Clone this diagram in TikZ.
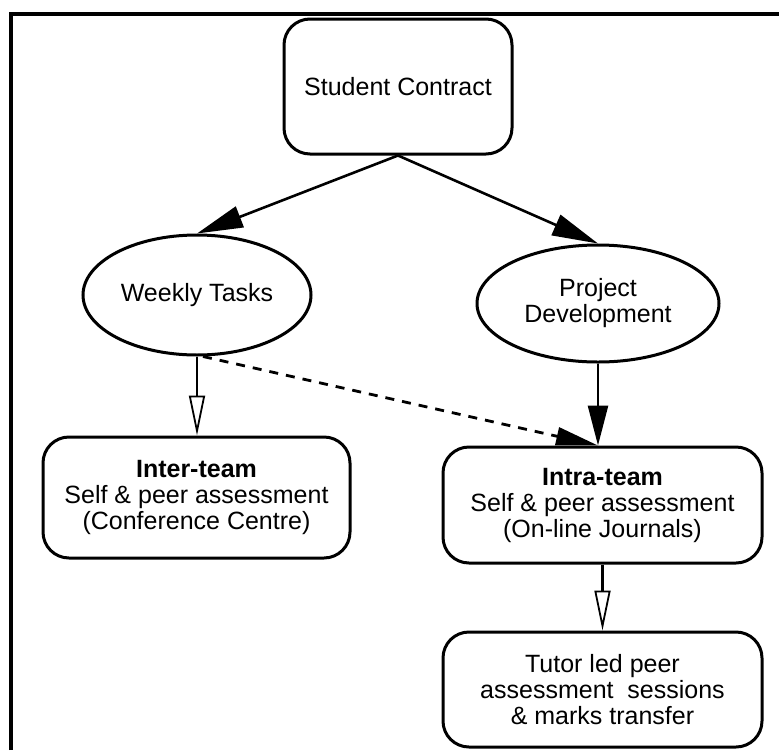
\documentclass[tikz,border=0pt]{standalone}
\usepackage{fontspec}
\setmainfont{Liberation Sans}
\usetikzlibrary{arrows.meta,shapes.geometric}
\begin{document}
\begin{tikzpicture}[x=1pt,y=-1pt,
  every node/.style={font=\fontsize{25}{26}\selectfont, align=center, inner sep=0pt},
  rbox/.style={draw, line width=3pt, rounded corners=26pt},
  oval/.style={draw, ellipse, line width=3pt},
  conn/.style={line width=2.6pt},
  fulltip/.style={-{Triangle[length=40pt,width=20pt]}},
  hollowtip/.style={-{Triangle[open,length=40pt,width=16pt,line width=1.8pt]}},
  dashconn/.style={line width=2.8pt, dash pattern=on 9pt off 8pt}
]
\useasboundingbox (0,0) rectangle (779,750);
% frame
\draw[line width=3.2pt] (11,750) -- (11,14) -- (779,14);

\node[rbox, minimum width=228pt, minimum height=135pt] (sc) at (398,86.5) {Student Contract};
\node[oval, minimum width=228pt, minimum height=120pt] (wt) at (197,295) {Weekly Tasks};
\node[oval, minimum width=242pt, minimum height=117pt] (pd) at (598,303.5) {Project\\Development};
\node[rbox, minimum width=307pt, minimum height=121pt] (inter) at (196.5,497.5) {\textbf{Inter-team}\\Self \& peer assessment\\(Conference Centre)};
\node[rbox, minimum width=319pt, minimum height=116pt] (intra) at (602.5,505) {\textbf{Intra-team}\\Self \& peer assessment\\(On-line Journals)};
\node[rbox, minimum width=319pt, minimum height=115pt] (tutor) at (602.5,689.5) {Tutor led peer\\assessment\ \ sessions\\\& marks transfer};

\coordinate (pdin) at (pd.south |- intra.north);
\draw[conn, -{Triangle[length=46pt,width=22pt]}] (sc.south) -- (wt.north);
\draw[conn, -{Triangle[length=46pt,width=22pt]}] (sc.south) -- (pd.north);
\draw[conn, hollowtip] (wt.south) -- (wt.south |- inter.north);
\draw[conn, fulltip] (pd.south) -- (pdin);
\draw[dashconn, -{Triangle[length=42pt,width=18pt]}] ([xshift=6pt]wt.south) -- (pdin);
\draw[conn, hollowtip] (intra.south) -- (tutor.north);
\end{tikzpicture}
\end{document}
